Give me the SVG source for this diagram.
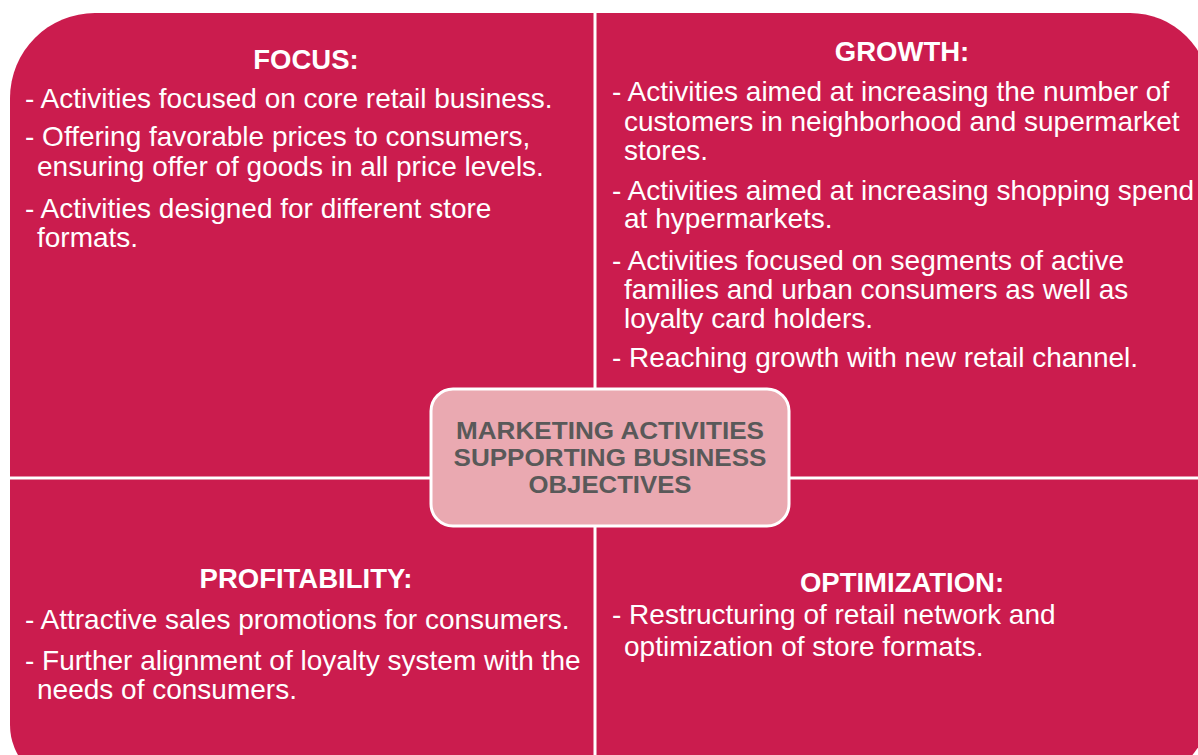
<svg xmlns="http://www.w3.org/2000/svg" width="1198" height="755" viewBox="0 0 1198 755">
<style>
.t{font-family:"Liberation Sans",Arial,sans-serif;font-size:28px;fill:#fff}
.h{font-family:"Liberation Sans",Arial,sans-serif;font-size:27.5px;font-weight:bold;fill:#fff;text-anchor:middle}
.c{font-family:"Liberation Sans",Arial,sans-serif;font-size:24px;font-weight:bold;fill:#595959;text-anchor:middle}
.div{stroke:#fff;stroke-width:3}
</style>
<rect width="1198" height="755" fill="#fff"/>
<g id="background">
<path d="M95,13 H1130 A80,80 0 0 1 1210,93 V705 A80,80 0 0 1 1130,785 H70 A60,60 0 0 1 10,725 V98 A85,85 0 0 1 95,13 Z" fill="#CB1C4E"/>
</g>
<g id="connectors">
<line class="div" x1="595" y1="10" x2="595" y2="760"/>
<line class="div" x1="5" y1="478" x2="1210" y2="478"/>
</g>
<g id="focus">
<text class="h" x="306" y="69">FOCUS:</text>
<text class="t" x="25" y="108">- Activities focused on core retail business.</text>
<text class="t" x="25" y="146">- Offering favorable prices to consumers,</text>
<text class="t" x="37" y="176">ensuring offer of goods in all price levels.</text>
<text class="t" x="25" y="218">- Activities designed for different store</text>
<text class="t" x="37" y="247">formats.</text>
</g>
<g id="growth">
<text class="h" x="902" y="61">GROWTH:</text>
<text class="t" x="612" y="101">- Activities aimed at increasing the number of</text>
<text class="t" x="624" y="131">customers in neighborhood and supermarket</text>
<text class="t" x="624" y="160">stores.</text>
<text class="t" x="612" y="200">- Activities aimed at increasing shopping spend</text>
<text class="t" x="624" y="228">at hypermarkets.</text>
<text class="t" x="612" y="270">- Activities focused on segments of active</text>
<text class="t" x="624" y="299">families and urban consumers as well as</text>
<text class="t" x="624" y="328">loyalty card holders.</text>
<text class="t" x="612" y="367">- Reaching growth with new retail channel.</text>
</g>
<g id="profitability">
<text class="h" x="306" y="588">PROFITABILITY:</text>
<text class="t" x="25" y="629">- Attractive sales promotions for consumers.</text>
<text class="t" x="25" y="670">- Further alignment of loyalty system with the</text>
<text class="t" x="37" y="699">needs of consumers.</text>
</g>
<g id="optimization">
<text class="h" x="902" y="592">OPTIMIZATION:</text>
<text class="t" x="612" y="624">- Restructuring of retail network and</text>
<text class="t" x="624" y="656">optimization of store formats.</text>
</g>
<g id="center">
<rect x="431" y="389" width="358" height="137" rx="22" fill="#EAA9B1" stroke="#fff" stroke-width="3"/>
<text class="c" x="610" y="439" textLength="308" lengthAdjust="spacingAndGlyphs">MARKETING ACTIVITIES</text>
<text class="c" x="610" y="466" textLength="313" lengthAdjust="spacingAndGlyphs">SUPPORTING BUSINESS</text>
<text class="c" x="610" y="493" textLength="163" lengthAdjust="spacingAndGlyphs">OBJECTIVES</text>
</g>
</svg>
